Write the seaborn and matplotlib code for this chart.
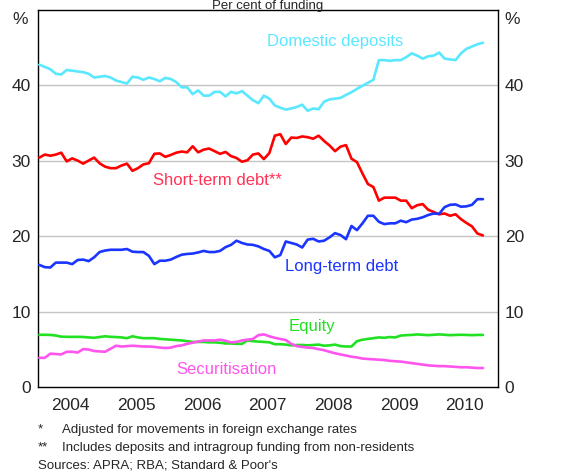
import matplotlib
matplotlib.use("Agg")
import matplotlib.pyplot as plt
import numpy as np
import pandas as pd
import seaborn as sns

# monthly observations, Jan 2004 onwards
start_year = 2004
n_months = 82

domestic_deposits = [
    42.7, 42.4, 42.1, 41.5, 41.4, 42.0, 41.9, 41.8, 41.7, 41.5,
    41.0, 41.1, 41.2, 41.0, 40.6, 40.4, 40.2, 41.1, 41.0, 40.7,
    41.0, 40.8, 40.5, 40.95, 40.8, 40.4, 39.7, 39.7, 38.8, 39.3,
    38.6, 38.6, 39.1, 39.1, 38.5, 39.1, 38.9, 39.2, 38.6, 38.0,
    37.6, 38.6, 38.2, 37.3, 37.0, 36.75, 36.9, 37.1, 37.4, 36.6,
    36.9, 36.8, 37.8, 38.1, 38.2, 38.3, 38.7, 39.05, 39.5, 39.9,
    40.3, 40.7, 43.3, 43.3, 43.2, 43.3, 43.3, 43.7, 44.2, 43.9,
    43.5, 43.8, 43.9, 44.3, 43.5, 43.4, 43.3, 44.2, 44.8, 45.1,
    45.4, 45.6,
]
short_term_debt = [
    30.4, 30.8, 30.65, 30.8, 31.05, 29.9, 30.3, 30.0, 29.6, 30.0,
    30.4, 29.65, 29.2, 29.0, 29.0, 29.35, 29.6, 28.65, 29.0, 29.5,
    29.65, 30.9, 30.95, 30.5, 30.75, 31.05, 31.2, 31.1, 31.9, 31.1,
    31.45, 31.6, 31.25, 30.9, 31.15, 30.6, 30.35, 29.85, 30.05, 30.8,
    30.95, 30.2, 31.0, 33.3, 33.5, 32.2, 33.05, 33.0, 33.2, 33.1,
    32.9, 33.3, 32.6, 32.0, 31.25, 31.85, 32.05, 30.25, 29.8, 28.3,
    26.9, 26.5, 24.7, 25.1, 25.1, 25.1, 24.7, 24.7, 23.7, 24.1,
    24.25, 23.5, 23.2, 22.9, 23.0, 22.7, 22.9, 22.25, 21.75, 21.3,
    20.35, 20.1,
]
long_term_debt = [
    16.2, 15.9, 15.85, 16.5, 16.5, 16.5, 16.3, 16.85, 16.9, 16.7,
    17.2, 17.9, 18.1, 18.2, 18.2, 18.2, 18.3, 17.95, 17.9, 17.9,
    17.4, 16.3, 16.75, 16.75, 16.9, 17.25, 17.55, 17.65, 17.7, 17.85,
    18.05, 17.9, 17.9, 18.05, 18.55, 18.85, 19.4, 19.1, 18.9, 18.85,
    18.65, 18.3, 18.05, 17.2, 17.5, 19.3, 19.1, 18.9, 18.5, 19.55,
    19.65, 19.3, 19.4, 19.85, 20.4, 20.15, 19.6, 21.35, 20.8, 21.7,
    22.7, 22.7, 21.9, 21.6, 21.7, 21.7, 22.05, 21.85, 22.2, 22.3,
    22.5, 22.8, 23.0, 22.95, 23.85, 24.15, 24.2, 23.9, 23.95, 24.15,
    24.9, 24.9,
]
equity = [
    6.95, 6.95, 6.93, 6.85, 6.7, 6.68, 6.67, 6.68, 6.66, 6.6,
    6.55, 6.65, 6.75, 6.68, 6.65, 6.6, 6.5, 6.75, 6.6, 6.5,
    6.5, 6.5, 6.4, 6.35, 6.3, 6.25, 6.2, 6.1, 6.0, 6.0,
    6.0, 5.95, 5.95, 5.9, 5.8, 5.8, 5.75, 5.75, 6.2, 6.1,
    6.05, 6.0, 5.95, 5.7, 5.7, 5.65, 5.55, 5.6, 5.6, 5.55,
    5.6, 5.65, 5.5, 5.55, 5.65, 5.45, 5.4, 5.4, 6.1, 6.3,
    6.4, 6.5, 6.6, 6.55, 6.65, 6.6, 6.85, 6.9, 6.93, 7.0,
    6.95, 6.9, 6.95, 7.0, 6.95, 6.9, 6.93, 6.95, 6.93, 6.9,
    6.93, 6.93,
]
securitisation = [
    3.9, 3.9, 4.45, 4.4, 4.35, 4.7, 4.7, 4.6, 5.05, 5.0,
    4.8, 4.75, 4.7, 5.1, 5.5, 5.4, 5.45, 5.5, 5.45, 5.4,
    5.4, 5.35, 5.25, 5.2, 5.25, 5.45, 5.55, 5.75, 5.9, 6.05,
    6.2, 6.2, 6.2, 6.3, 6.15, 5.95, 6.0, 6.2, 6.3, 6.4,
    6.9, 7.0, 6.75, 6.55, 6.4, 6.25, 5.75, 5.45, 5.35, 5.25,
    5.2, 5.05, 4.9, 4.7, 4.5, 4.35, 4.2, 4.05, 3.95, 3.8,
    3.75, 3.7, 3.65, 3.6, 3.5, 3.45, 3.4, 3.3, 3.2, 3.1,
    3.0, 2.9, 2.85, 2.8, 2.8, 2.75, 2.7, 2.65, 2.65, 2.6,
    2.55, 2.55,
]

series_names = ["Domestic deposits", "Short-term debt**", "Long-term debt",
                "Equity", "Securitisation"]
series_values = [domestic_deposits, short_term_debt, long_term_debt,
                 equity, securitisation]
series_colors = ["#5ae8ff", "#ff0000", "#1a35ff", "#22e022", "#ff55ee"]
label_colors = ["#5ae8ff", "#ff3355", "#1a35ff", "#22e022", "#ff55ee"]
# where each series name sits (decimal year, per cent)
label_pos = [(2008.53, 45.7), (2006.73, 27.4), (2008.63, 15.95),
             (2008.18, 8.0), (2006.87, 2.4)]

year_labels = ["2004", "2005", "2006", "2007", "2008", "2009", "2010"]
footnotes = [("*", "Adjusted for movements in foreign exchange rates"),
             ("**", "Includes deposits and intragroup funding from non-residents")]
source_note = "Sources: APRA; RBA; Standard & Poor's"

# build long-form table
months = np.arange(n_months)
t = start_year + (months + 0.3) / 12
frames = []
for name, vals in zip(series_names, series_values):
    frames.append(pd.DataFrame({"t": t, "value": vals, "series": name}))
df = pd.concat(frames, ignore_index=True)

sns.set_style("white")
plt.rcParams["font.family"] = ["Liberation Sans", "DejaVu Sans"]

fig = plt.figure(figsize=(5.79, 4.73), dpi=100)
ax = fig.add_axes([0.0651, 0.1812, 0.7945, 0.7987])

sns.lineplot(data=df, x="t", y="value", hue="series", hue_order=series_names,
             palette=dict(zip(series_names, series_colors)), linewidth=1.9,
             legend=False, ax=ax, zorder=3)

ax.set_xlim(2004, 2011)
ax.set_ylim(0, 50)
ax.set_xlabel("")
ax.set_ylabel("")

# y grid and tick labels on both sides
ax.set_yticks([0, 10, 20, 30, 40])
ax.set_yticklabels(["0", "10", "20", "30", "40"])
for yv in [10, 20, 30, 40]:
    ax.axhline(yv, color="#c4c4c4", lw=1.0, zorder=1)
ax.tick_params(axis="y", which="both", length=0, labelsize=12.5,
               left=False, right=False, labelleft=True, labelright=True,
               pad=5)

# year labels centred, boundary ticks inside
ax.set_xticks([int(y) + 0.5 for y in year_labels])
ax.set_xticklabels(year_labels)
ax.set_xticks(np.arange(2005, 2011), minor=True)
ax.tick_params(axis="x", which="major", length=0, labelsize=12.5, pad=7.5)
ax.tick_params(axis="x", which="minor", length=6, direction="in",
               width=1, color="black")

for side in ["left", "right", "top", "bottom"]:
    ax.spines[side].set_visible(True)
    ax.spines[side].set_color("black")
    ax.spines[side].set_linewidth(1.0)

for name, col, (lx, ly) in zip(series_names, label_colors, label_pos):
    ax.text(lx, ly, name, color=col, fontsize=12, ha="center", va="center")

# unit markers and title
fig.text(20 / 579, 1 - 20 / 473, "%", fontsize=12.5, ha="center", va="center")
fig.text(512 / 579, 1 - 20 / 473, "%", fontsize=12.5, ha="center", va="center")
fig.text(0.4625, 1 - 0.5 / 473, "Per cent of funding", fontsize=9.5,
         ha="center", va="top")

# notes
y_note = [429.5, 447.5]
for (mark, note), yy in zip(footnotes, y_note):
    fig.text(37.5 / 579, 1 - yy / 473, mark, fontsize=9.5, ha="left", va="center")
    fig.text(61.5 / 579, 1 - yy / 473, note, fontsize=9.5, ha="left", va="center")
fig.text(37.5 / 579, 1 - 465.5 / 473, source_note, fontsize=9.5,
         ha="left", va="center")

fig.savefig("out.png", dpi=100)
